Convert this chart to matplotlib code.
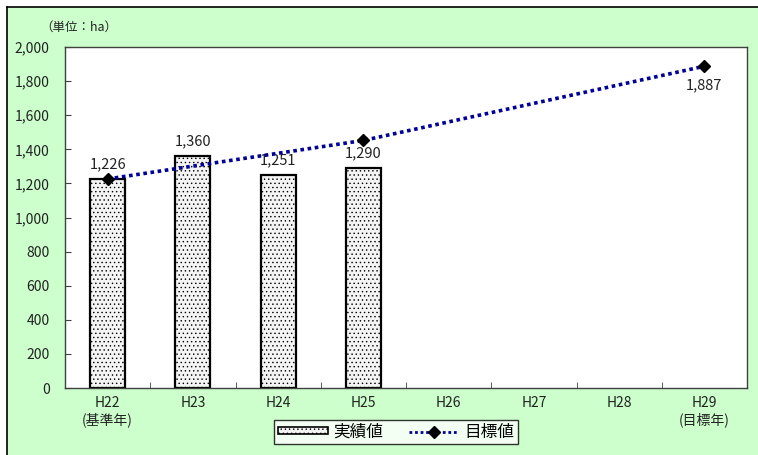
import matplotlib.pyplot as plt
import matplotlib.patches as mpatches
from matplotlib.lines import Line2D
from matplotlib.ticker import FuncFormatter, FixedLocator
import numpy as np

plt.rcParams['font.family'] = ['Noto Sans CJK JP', 'DejaVu Sans']
plt.rcParams['hatch.color'] = '#9a9a9a'
plt.rcParams['hatch.linewidth'] = 0.5

# ── Data ──────────────────────────────────────────────
years = ["H22\n(基準年)", "H23", "H24", "H25", "H26", "H27", "H28", "H29\n(目標年)"]
actual_idx = [0, 1, 2, 3]
actual_vals = [1226, 1360, 1251, 1290]
target_idx = [0, 3, 7]
target_vals = [1226, 1452, 1887]

BG_GREEN = "#ccffcc"
LINE_BLUE = "#000099"
TEXT = "#222222"

fig = plt.figure(figsize=(7.58, 4.55), dpi=100, facecolor="white")

# green backdrop with a black top/left edge
fig.patches.append(mpatches.Rectangle((7 / 758, 0), 1, 1 - 7 / 455,
                                      transform=fig.transFigure,
                                      facecolor=BG_GREEN, edgecolor="none",
                                      zorder=-10))
fig.add_artist(Line2D([7 / 758, 7 / 758], [0, 1 - 7 / 455], color="black", lw=1.2,
                      transform=fig.transFigure))
fig.add_artist(Line2D([7 / 758, 1], [1 - 7 / 455, 1 - 7 / 455], color="black", lw=1.2,
                      transform=fig.transFigure))

ax = fig.add_axes([65 / 758, 1 - 388 / 455, (747 - 65) / 758, (388 - 47) / 455])
ax.set_facecolor("white")

x = np.arange(len(years))
ax.bar(actual_idx, actual_vals, width=0.41, facecolor="#f4f4f4",
       edgecolor="black", linewidth=1.6, hatch="....", zorder=2)
for i, v in zip(actual_idx, actual_vals):
    ax.text(i, v + 45, f"{v:,}", ha="center", va="bottom", fontsize=10.5,
            color=TEXT)

ax.plot(target_idx, target_vals, linestyle=(0, (1, 1)), color=LINE_BLUE,
        linewidth=2.6, zorder=3)
ax.plot(target_idx, target_vals, linestyle="none", marker="D", markersize=6.5,
        color="black", zorder=4)
ax.text(target_idx[-1], target_vals[-1] - 70, f"{target_vals[-1]:,}", ha="center",
        va="top", fontsize=10.5, color=TEXT)

ax.set_xlim(-0.5, len(years) - 0.5)
ax.set_ylim(0, 2000)
ax.set_yticks(range(0, 2001, 200))
ax.yaxis.set_major_formatter(FuncFormatter(lambda v, p: f"{int(v):,}"))
ax.set_xticks(x)
ax.set_xticklabels(years, fontsize=10, color=TEXT, linespacing=1.2)
ax.xaxis.set_minor_locator(FixedLocator(np.arange(0.5, len(years) - 1, 1)))
ax.tick_params(axis="x", which="major", length=0, pad=6)
ax.tick_params(axis="x", which="minor", direction="in", length=4, color="#404040")
ax.tick_params(axis="y", direction="in", length=4, color="#404040",
               labelsize=10, labelcolor=TEXT, pad=11)
for s in ax.spines.values():
    s.set_color("#404040")
    s.set_linewidth(1.0)

fig.text(40 / 758, 1 - 27 / 455, "（単位：ha）", fontsize=9, va="center",
         ha="left", color=TEXT)

handles = [mpatches.Patch(facecolor="#f4f4f4", edgecolor="black", hatch="....",
                          linewidth=1.2),
           Line2D([0], [0], linestyle=(0, (1, 1)), color=LINE_BLUE, linewidth=2,
                  marker="D", markersize=6, markerfacecolor="black",
                  markeredgecolor="black")]
leg = fig.legend(handles, ["実績値", "目標値"], loc="center",
                 bbox_to_anchor=(396 / 758, 1 - 432 / 455), ncol=2,
                 fontsize=12, frameon=True, fancybox=False, edgecolor="black",
                 handlelength=3.0, handleheight=0.3, columnspacing=1.6,
                 handletextpad=0.3, borderpad=0.2, borderaxespad=0)
leg.get_frame().set_linewidth(1.0)

fig.savefig("out.png", dpi=100, facecolor="white")
